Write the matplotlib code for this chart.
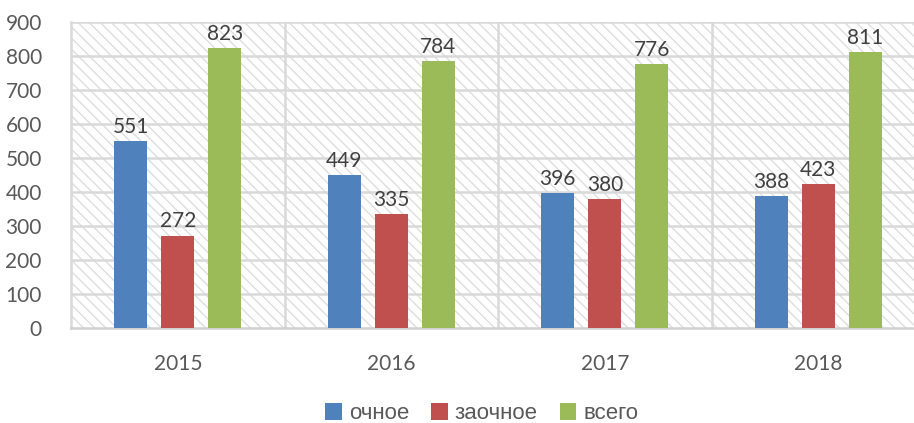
import matplotlib
matplotlib.use("Agg")
import matplotlib.pyplot as plt
from matplotlib.patches import Rectangle, Patch
import numpy as np

years = ["2015", "2016", "2017", "2018"]
series_names = ["очное", "заочное", "всего"]
ochnoe = [551, 449, 396, 388]
zaochnoe = [272, 335, 380, 423]
vsego = [823, 784, 776, 811]
colors = ["#4F81BD", "#C0504D", "#9BBB59"]

plt.rcParams['font.family'] = ['Lato', 'DejaVu Sans']
plt.rcParams['hatch.linewidth'] = 1.0

fig = plt.figure(figsize=(9.14, 4.23), dpi=100)
ax = fig.add_axes([71/914, 95/423, 1 - 71/914, 306/423])

x = np.arange(len(years))
ax.set_xlim(-0.5, 3.448)
ax.set_ylim(0, 900)

# hatched background
bg = Rectangle((0, 0), 1, 1, transform=ax.transAxes, facecolor="white",
               edgecolor="#DEDEDE", hatch="\\\\\\", linewidth=0, zorder=0)
ax.add_patch(bg)

for v in range(100, 901, 100):
    ax.axhline(v, color="#D9D9D9", lw=1.8, zorder=1)
for b in [0.5, 1.5, 2.5]:
    ax.axvline(b, color="#D9D9D9", lw=1.8, zorder=1)

w = 0.155
off = 0.22
for i, (vals, c) in enumerate(zip([ochnoe, zaochnoe, vsego], colors)):
    pos = x + (i - 1) * off
    ax.bar(pos, vals, width=w, color=c, zorder=3, label=series_names[i])
    for p, v in zip(pos, vals):
        ax.text(p, v + 12, str(v), ha="center", va="bottom", fontsize=15,
                color="#404040", zorder=4)

for s in ["top", "right"]:
    ax.spines[s].set_visible(False)
ax.spines["left"].set_color("#D9D9D9")
ax.spines["left"].set_linewidth(1.8)
ax.spines["bottom"].set_color("#D0D0D0")
ax.spines["bottom"].set_linewidth(1.8)

ax.set_xticks(x)
ax.set_xticklabels(years)
ax.set_yticks(range(0, 901, 100))
ax.tick_params(axis="both", length=0, labelsize=15, labelcolor="#595959")
ax.tick_params(axis="x", pad=19)
ax.tick_params(axis="y", pad=21)

handles = [Patch(facecolor=c) for c in colors]
leg = fig.legend(handles, series_names, loc="center", bbox_to_anchor=(0.527, 0.022),
                 ncol=3, frameon=False, handlelength=0.75, handleheight=0.75,
                 handletextpad=0.3, columnspacing=1.0,
                 prop={'family': ['Liberation Sans', 'DejaVu Sans'], 'size': 16})
for t in leg.get_texts():
    t.set_color("#595959")

fig.savefig("out.png", dpi=100)
